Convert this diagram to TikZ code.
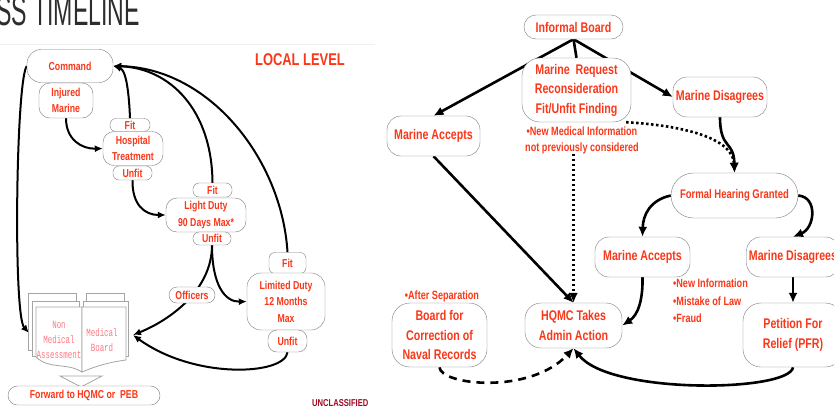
\documentclass[tikz,border=0pt]{standalone}
\usepackage{fontspec}
\setmainfont{Liberation Sans}
\newfontfamily\narrowfont{Liberation Sans}[FakeStretch=0.76]
\newfontfamily\pagefont{Liberation Mono}[FakeStretch=0.68]
\newfontfamily\titlefont{Liberation Sans}[FakeStretch=0.55]
\usetikzlibrary{shapes.misc, arrows.meta, positioning, backgrounds}
\definecolor{boxred}{RGB}{250,55,25}
\definecolor{edgegray}{RGB}{125,125,125}
\definecolor{pagegray}{RGB}{165,165,165}
\definecolor{pagepink}{RGB}{255,120,130}
\definecolor{classred}{RGB}{160,10,35}
\definecolor{titlegray}{RGB}{45,45,45}
\tikzstyle{block}=[draw=edgegray, fill=white, align=center, text=boxred, inner sep=0pt]
\tikzstyle{bigbox}=[block, rounded corners=14pt, font=\narrowfont\bfseries\fontsize{14}{19.5}\selectfont]
\tikzstyle{localbox}=[block, rounded corners=11pt, font=\narrowfont\bfseries\fontsize{11.5}{16.5}\selectfont]
\tikzstyle{pill}=[rounded rectangle, sharp corners]
\tikzstyle{tag}=[localbox, rounded corners=6pt]
\tikzstyle{note}=[text=boxred, inner sep=0pt, font=\narrowfont\bfseries\fontsize{12}{16}\selectfont]
\tikzstyle{page}=[draw=pagegray, fill=white, line width=0.8pt]
\tikzstyle{pagetext}=[text=pagepink, align=center, inner sep=0pt, font=\pagefont\fontsize{11}{15}\selectfont]
\tikzstyle{flow}=[->, line width=2.6pt]
\tikzstyle{localflow}=[-{Latex[length=8pt,width=7pt]}, line width=2pt]

\begin{document}
\begin{tikzpicture}[x=1pt, y=-1pt, >={Latex[length=10pt,width=9pt]}]
  \useasboundingbox (0,0) rectangle (834,405);
  % local level
  \node[anchor=base west, inner sep=0pt, text=titlegray,
    font=\titlefont\fontsize{42}{42}\selectfont] (title) at (-4,25) {SS TIMELINE};
  \draw[gray!12, line width=1pt] (0,44) -- (375,44);
  \node[text=boxred, font=\narrowfont\bfseries\fontsize{17}{17}\selectfont] (level) at (300,60) {LOCAL LEVEL};

  \node[localbox, minimum width=86pt, minimum height=33pt, rounded corners=14pt] (command) at (70,66) {Command};
  \node[localbox, minimum width=54pt, minimum height=35pt] (injured) at (66,100.5) {Injured\\Marine};
  \node[tag, minimum width=40pt, minimum height=13pt] (hfit) at (130,125) {Fit};
  \node[localbox, minimum width=60pt, minimum height=34pt] (hospital) at (133,148.5) {Hospital\\Treatment};
  \node[tag, minimum width=39pt, minimum height=14pt] (hunfit) at (132.5,173) {Unfit};
  \node[tag, minimum width=39pt, minimum height=14pt] (lfit) at (212.5,190) {Fit};
  \node[localbox, minimum width=80pt, minimum height=34pt] (lightduty) at (206,215) {Light Duty\\90 Days Max*};
  \node[tag, minimum width=38pt, minimum height=13pt] (lunfit) at (212,238.5) {Unfit};
  \node[tag, minimum width=37pt, minimum height=21pt] (mfit) at (287.5,263) {Fit};
  \node[localbox, minimum width=78pt, minimum height=57pt, rounded corners=14pt] (limited) at (286,301.5) {Limited Duty\\12 Months\\Max};
  \node[tag, minimum width=39pt, minimum height=22pt, rounded corners=9pt] (munfit) at (287.5,341) {Unfit};

  % board packages
  \draw[page] (28,293) rectangle (76,350);
  \draw[page] (32,301) rectangle (79,356);
  \draw[page] (86,293) rectangle (124,350);
  \draw[page] (83,301) rectangle (128,356);
  \draw[page] (36,307) -- (82,307) -- (82,372) .. controls (66,362) and (50,370) .. (36,357) -- cycle;
  \draw[page] (82,307) -- (126,307) -- (126,360) .. controls (110,362) and (96,366) .. (82,372) -- cycle;
  \draw[page] (60,376) -- (102,376) -- (81,387) -- cycle;
  \node[pagetext] (nonmedical) at (59,340) {Non\\Medical\\Assessment};
  \node[pagetext] (medboard) at (102,340) {Medical\\Board};
  \coordinate (packleft) at (29,333);
  \coordinate (packright) at (133,335);
  \node[localbox, pill, minimum width=152pt, minimum height=19pt] (forward) at (84,395.5) {Forward to HQMC or~ PEB};
  \node[anchor=base west, inner sep=0pt, text=classred,
    font=\narrowfont\bfseries\fontsize{10}{10}\selectfont] (unclass) at (312,406) {UNCLASSIFIED};

  % HQMC level
  \node[bigbox, pill, minimum width=99pt, minimum height=24pt] (informal) at (573.5,27) {Informal Board};
  \node[bigbox, minimum width=109pt, minimum height=64pt, rounded corners=18pt] (request) at (576.5,90) {Marine\ \ Request\\Reconsideration\\Fit/Unfit Finding};
  \node[bigbox, minimum width=94pt, minimum height=40pt] (disagree) at (720,97) {Marine Disagrees};
  \node[bigbox, minimum width=93pt, minimum height=40pt] (accept) at (433.5,136) {Marine Accepts};
  \node[note, align=center] (newinfo) at (582,140) {\textbullet New Medical Information\\not previously considered};
  \node[bigbox, pill, minimum width=127pt, minimum height=45pt,
    font=\narrowfont\bfseries\fontsize{12.5}{15}\selectfont] (formal) at (734.5,195.5) {Formal Hearing Granted};
  \node[bigbox, minimum width=95pt, minimum height=40pt] (haccept) at (642.5,257) {Marine Accepts};
  \node[bigbox, minimum width=93pt, minimum height=40pt] (hdisagree) at (793,257) {Marine Disagrees};
  \node[note, align=left, anchor=north west, font=\narrowfont\bfseries\fontsize{12}{17.5}\selectfont] (reasons) at (673,279) {\textbullet New Information\\\textbullet Mistake of Law\\\textbullet Fraud};
  \node[bigbox, minimum width=100pt, minimum height=64pt, rounded corners=18pt] (petition) at (793,335) {Petition For\\Relief (PFR)};
  \node[bigbox, minimum width=97pt, minimum height=45pt, rounded corners=16pt] (hqmc) at (573.5,325.5) {HQMC Takes\\Admin Action};
  \node[bigbox, minimum width=95pt, minimum height=64pt, rounded corners=18pt] (bcnr) at (439.5,335) {Board for\\Correction of\\Naval Records};
  \node[note] (separation) at (442,296) {\textbullet After Separation};

  \begin{scope}[on background layer]
    \fill[white] (0,0) rectangle (834,405);
    \draw[localflow] (command.west) .. controls (16,80) and (13,315) .. (packleft);
    \draw[localflow] (injured.south) .. controls (66,140) and (82,149) .. (hospital.west);
    \draw[localflow] (hunfit.south) .. controls (132,205) and (145,215) .. (lightduty.west);
    \draw[localflow] (hfit.north) .. controls (129,92) and (126,70) .. (command.east);
    \draw[localflow] (lfit.north) .. controls (212,110) and (170,68) .. (command.east);
    \draw[localflow] (mfit.north) .. controls (282,160) and (210,68) .. (command.east);
    \draw[localflow] (lunfit.south) .. controls (212,285) and (225,302) .. (limited.west);
    \draw[localflow] (lunfit.south) .. controls (212,290) and (170,320) .. (packright);
    \draw[localflow] (munfit.south) .. controls (285,375) and (195,380) .. (packright);

    \draw[flow] (informal.south) -- (accept.north);
    \draw[flow, -] (informal.south) -- (request.north);
    \draw[flow] (informal.south) -- (disagree.west);
    \draw[flow, dash pattern=on 2.5pt off 2.5pt] (request.-33) .. controls (690,126) and (733,140) .. (formal.north);
    \draw[flow] (disagree.south) .. controls (720,150) and (734,140) .. (formal.north);
    \draw[flow, dash pattern=on 2.5pt off 2.5pt] (newinfo.south -| hqmc.north) -- (hqmc.north);
    \draw[flow] (accept.south) -- (hqmc.north);
    \draw[flow] (formal.west) .. controls (650,200) and (643,215) .. (haccept.north);
    \draw[flow] (formal.east) .. controls (818,197) and (815,228) .. (hdisagree.north);
    \draw[flow] (haccept.south) .. controls (643,300) and (638,315) .. (hqmc.east);
    \draw[flow] (hdisagree.south) -- (petition.north);
    \draw[flow] (petition.south) .. controls (790,392) and (610,395) .. (hqmc.south);
    \draw[flow, dash pattern=on 8pt off 6pt] (bcnr.south) .. controls (440,385) and (530,395) .. (hqmc.south);
  \end{scope}
  \node[tag, minimum width=46pt, minimum height=16pt, rounded corners=8pt] (officers) at (192,295) {Officers};
\end{tikzpicture}
\end{document}
